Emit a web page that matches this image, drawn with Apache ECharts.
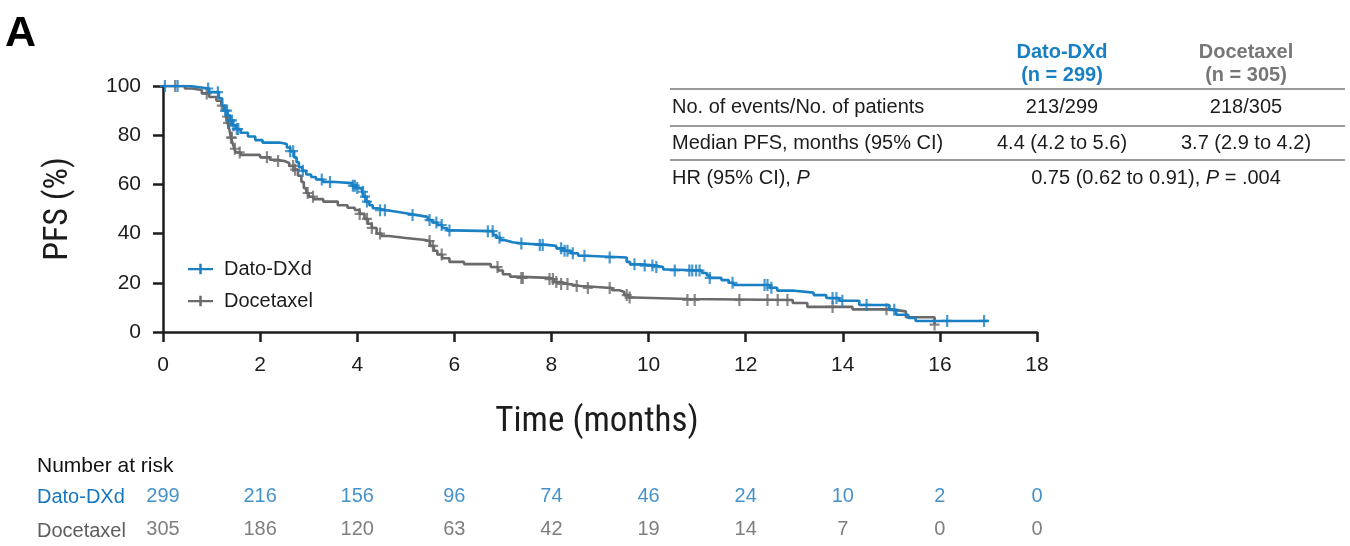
<!DOCTYPE html>
<html>
<head>
<meta charset="utf-8">
<script src="https://cdn.jsdelivr.net/npm/echarts@6/dist/echarts.min.js"></script>
<style>
html,body{margin:0;padding:0;background:#fff;}
#c{width:1350px;height:546px;}
</style>
</head>
<body>
<div id="c"></div>
<script>
// ---- Data ----
const months = [0, 2, 4, 6, 8, 10, 12, 14, 16, 18];
const riskDato = [299, 216, 156, 96, 74, 46, 24, 10, 2, 0];
const riskDoce = [305, 186, 120, 63, 42, 19, 14, 7, 0, 0];

// Kaplan-Meier steps: [time (months), PFS % after that time]
const datoSteps = [
  [0,100],[0.55,99.5],[0.75,99],[0.95,97.5],[1.15,95],[1.22,92],[1.28,90],[1.33,88],[1.38,86],
  [1.44,84],[1.5,82.5],[1.6,81],[1.75,79.5],[1.9,78],[2.05,77],[2.4,76.4],[2.55,75],[2.62,73.5],
  [2.7,71],[2.75,69],[2.8,67],[2.87,65.5],[2.95,64],[3.05,63],[3.15,62],[3.3,61],[3.55,60.5],
  [3.9,59.5],[3.98,58.5],[4.1,57],[4.13,55],[4.18,53],[4.25,51.5],[4.32,50.3],[4.42,49.5],
  [4.6,48.8],[4.85,48.3],[5.0,47.6],[5.2,46.8],[5.45,45.5],[5.55,44.5],[5.65,43.5],[5.75,42.3],
  [5.85,41.3],[5.95,41],[6.8,39.4],[6.87,38.3],[6.95,37.3],[7.05,36.5],[7.2,36],[7.4,35.4],
  [7.9,35],[8.1,34],[8.25,33],[8.4,32],[8.55,31],[8.7,30.3],[9.55,28.5],[9.62,27.5],[9.85,27],
  [10.15,26.4],[10.3,25.4],[10.4,25],[11.1,24],[11.2,23],[11.26,22],[11.5,21.1],[11.65,20],
  [11.75,19.1],[12.5,18],[12.65,16.8],[13.0,16],[13.4,15],[13.66,13.8],[13.93,12.7],[14.34,11],
  [14.96,9],[15.1,7],[15.35,5.7],[15.5,4.5]
];
const datoEnd = 17.0;
const doceSteps = [
  [0,100],[0.45,99],[0.6,98.4],[0.8,97],[0.95,95.5],[1.1,94],[1.2,92],[1.25,90],[1.3,87.5],
  [1.33,85],[1.37,82],[1.4,79],[1.43,77],[1.47,74.5],[1.5,73],[1.6,72],[2.0,71],[2.2,70],
  [2.35,69.5],[2.5,68.7],[2.6,67.5],[2.7,66],[2.78,63.5],[2.85,61],[2.9,58.5],[2.95,56.5],
  [3.0,55],[3.1,54],[3.3,53],[3.6,51.5],[3.8,50.5],[3.95,49.6],[4.05,48],[4.15,46],[4.22,44],
  [4.3,42.3],[4.4,40],[4.5,39],[4.65,38.2],[5.0,37.4],[5.4,37],[5.5,35],[5.58,33],[5.65,31.5],
  [5.75,30],[5.9,28.5],[6.2,27.6],[6.75,26.4],[6.9,25],[7.0,23.5],[7.15,22.5],[7.25,22],
  [7.95,21.5],[8.05,20.3],[8.2,19.5],[8.35,18.7],[8.6,17.9],[9.25,17],[9.4,16.3],[9.5,15],
  [9.6,14],[9.7,13.4],[10.8,13],[12.97,11.8],[13.27,10.2],[14.2,9.2],[14.97,8.4],[15.3,6],
  [15.89,3]
];
const doceEnd = 15.89;

// Censoring times (months)
const datoCensor = [0.04,0.3,0.93,1.13,1.28,1.32,1.38,1.42,1.45,1.52,1.55,2.62,2.68,2.88,3.27,3.44,
  3.91,3.95,4.0,4.12,4.16,4.2,4.47,4.57,5.14,5.49,5.63,5.74,5.9,6.69,6.79,6.93,7.38,7.76,7.82,
  8.2,8.27,8.33,8.44,8.68,9.2,9.71,9.92,10.08,10.16,10.54,10.84,10.9,10.98,11.05,11.26,11.73,
  12.39,12.45,12.53,13.79,13.87,13.99,14.49,15.06,16.15,16.91];
const doceCensor = [0.25,0.9,1.21,1.32,1.34,1.4,1.42,1.48,1.58,2.14,2.37,2.68,2.72,2.98,3.09,
  4.05,4.2,4.3,4.47,5.49,5.56,5.74,6.89,7.41,7.38,7.96,8.03,8.1,8.2,8.33,8.52,8.75,9.2,9.55,
  9.61,10.8,10.95,11.87,12.45,12.66,12.86,13.79,14.9,15.89];

// ---- Colours ----
const BLUE = '#1a80c4';
const GRAY = '#6a6a6d';
const INK = '#1c1c1c';
const FONT = "'Liberation Sans', Arial, sans-serif";
const NARROW = "'Liberation Sans Narrow', 'Roboto Condensed', 'Liberation Sans', sans-serif";

function survAt(steps, t) {
  let s = steps[0][1];
  for (const p of steps) { if (p[0] <= t) s = p[1]; else break; }
  return s;
}
function lineData(steps, end) {
  const d = steps.map(p => [p[0], p[1]]);
  d.push([end, steps[steps.length - 1][1]]);
  return d;
}
const plusIcon = 'path://M0,4 L24,4 L24,6.2 L0,6.2 Z M10.8,0 L13.2,0 L13.2,10 L10.8,10 Z';
const plusMark = 'path://M0,4.1 L10,4.1 L10,5.9 L0,5.9 Z M3.9,0 L6.1,0 L6.1,10 L3.9,10 Z';

const axisStyle = { color: INK, width: 2.5 };

const chart = echarts.init(document.getElementById('c'), null, { renderer: 'canvas' });
const option = {
  backgroundColor: '#fff',
  animation: false,
  grid: [
    { left: 163, right: 313, top: 86, bottom: 214 },
    { left: 163, right: 313, top: 480, height: 68 }
  ],
  xAxis: [
    {
      type: 'value', min: 0, max: 18, interval: 2,
      axisLine: { lineStyle: axisStyle },
      axisTick: { length: 10, lineStyle: axisStyle },
      axisLabel: { fontSize: 21, color: INK, margin: 23, fontFamily: FONT },
      splitLine: { show: false }
    },
    { gridIndex: 1, type: 'value', min: 0, max: 18, show: false }
  ],
  yAxis: [
    {
      type: 'value', min: 0, max: 100, interval: 20,
      axisLine: { show: true, lineStyle: axisStyle },
      axisTick: { show: true, length: 10, lineStyle: axisStyle },
      axisLabel: { fontSize: 21, color: INK, margin: 22, fontFamily: FONT },
      splitLine: { show: false }
    },
    { gridIndex: 1, type: 'category', inverse: true, data: ['Dato-DXd', 'Docetaxel'], show: false }
  ],
  legend: {
    orient: 'vertical', left: 183, top: 254, itemGap: 12,
    itemWidth: 25, itemHeight: 11,
    textStyle: { fontSize: 20, color: INK, fontFamily: FONT, padding: [0, 0, 0, 6] },
    data: [
      { name: 'Dato-DXd', icon: plusIcon, itemStyle: { color: BLUE } },
      { name: 'Docetaxel', icon: plusIcon, itemStyle: { color: GRAY } }
    ]
  },
  series: [
    {
      name: 'Docetaxel', type: 'line', step: 'end', showSymbol: false,
      data: lineData(doceSteps, doceEnd), color: GRAY,
      lineStyle: { width: 2.6, color: GRAY }, z: 2
    },
    {
      name: 'Dato-DXd', type: 'line', step: 'end', showSymbol: false,
      data: lineData(datoSteps, datoEnd), color: BLUE,
      lineStyle: { width: 2.6, color: BLUE }, z: 3
    },
    {
      name: 'Docetaxel censored', type: 'scatter', symbol: plusMark, symbolSize: [10, 12],
      itemStyle: { color: GRAY }, z: 2,
      data: doceCensor.map(t => [t, survAt(doceSteps, t)])
    },
    {
      name: 'Dato-DXd censored', type: 'scatter', symbol: plusMark, symbolSize: [10, 12],
      itemStyle: { color: BLUE }, z: 3,
      data: datoCensor.map(t => [t, survAt(datoSteps, t)])
    },
    {
      name: 'risk Dato', type: 'scatter', xAxisIndex: 1, yAxisIndex: 1, symbolSize: 0,
      label: { show: true, position: 'inside', formatter: p => p.value[2], fontSize: 20, color: '#1677bd', fontFamily: FONT },
      data: months.map((m, i) => [m, 'Dato-DXd', riskDato[i]])
    },
    {
      name: 'risk Doce', type: 'scatter', xAxisIndex: 1, yAxisIndex: 1, symbolSize: 0,
      label: { show: true, position: 'inside', formatter: p => p.value[2], fontSize: 20, color: '#5e5e5e', fontFamily: FONT },
      data: months.map((m, i) => [m, 'Docetaxel', riskDoce[i]])
    }
  ],
  graphic: [
    { type: 'text', left: 5, top: 13, style: { text: 'A', font: "900 43px " + FONT, fill: '#000' } },
    { type: 'text', x: 58, y: 209, rotation: Math.PI / 2,
      style: { text: 'PFS (%)', font: "34px " + NARROW, fill: INK, align: 'center', verticalAlign: 'middle' } },
    { type: 'text', x: 597, y: 422,
      style: { text: 'Time (months)', font: "35px " + NARROW, fill: INK, align: 'center', verticalAlign: 'middle' } },
    // top-right summary table
    { type: 'text', x: 1062, y: 52, style: { text: 'Dato-DXd', font: "bold 20px " + FONT, fill: BLUE, align: 'center', verticalAlign: 'middle' } },
    { type: 'text', x: 1062, y: 75, style: { text: '(n = 299)', font: "bold 20px " + FONT, fill: BLUE, align: 'center', verticalAlign: 'middle' } },
    { type: 'text', x: 1246, y: 52, style: { text: 'Docetaxel', font: "bold 20px " + FONT, fill: '#777', align: 'center', verticalAlign: 'middle' } },
    { type: 'text', x: 1246, y: 75, style: { text: '(n = 305)', font: "bold 20px " + FONT, fill: '#777', align: 'center', verticalAlign: 'middle' } },
    { type: 'line', shape: { x1: 670, y1: 89, x2: 1345, y2: 89 }, style: { stroke: '#9a9a9a', lineWidth: 2 } },
    { type: 'text', x: 672, y: 107, style: { text: 'No. of events/No. of patients', font: "20px " + FONT, fill: INK, align: 'left', verticalAlign: 'middle' } },
    { type: 'text', x: 1062, y: 107, style: { text: '213/299', font: "20px " + FONT, fill: INK, align: 'center', verticalAlign: 'middle' } },
    { type: 'text', x: 1246, y: 107, style: { text: '218/305', font: "20px " + FONT, fill: INK, align: 'center', verticalAlign: 'middle' } },
    { type: 'line', shape: { x1: 670, y1: 126, x2: 1345, y2: 126 }, style: { stroke: '#9a9a9a', lineWidth: 2 } },
    { type: 'text', x: 672, y: 143, style: { text: 'Median PFS, months (95% CI)', font: "20px " + FONT, fill: INK, align: 'left', verticalAlign: 'middle' } },
    { type: 'text', x: 1062, y: 143, style: { text: '4.4 (4.2 to 5.6)', font: "20px " + FONT, fill: INK, align: 'center', verticalAlign: 'middle' } },
    { type: 'text', x: 1246, y: 143, style: { text: '3.7 (2.9 to 4.2)', font: "20px " + FONT, fill: INK, align: 'center', verticalAlign: 'middle' } },
    { type: 'line', shape: { x1: 670, y1: 160, x2: 1345, y2: 160 }, style: { stroke: '#9a9a9a', lineWidth: 2 } },
    { type: 'text', x: 672, y: 178, style: {
        text: 'HR (95% CI), {i|P}', font: "20px " + FONT, fill: INK, align: 'left', verticalAlign: 'middle',
        rich: { i: { fontStyle: 'italic', fontSize: 20, fontFamily: FONT, fill: INK } } } },
    { type: 'text', x: 1156, y: 178, style: {
        text: '0.75 (0.62 to 0.91), {i|P} = .004', font: "20px " + FONT, fill: INK, align: 'center', verticalAlign: 'middle',
        rich: { i: { fontStyle: 'italic', fontSize: 20, fontFamily: FONT, fill: INK } } } },
    // number at risk labels
    { type: 'text', x: 37, y: 466, style: { text: 'Number at risk', font: "21px " + FONT, fill: '#111', align: 'left', verticalAlign: 'middle' } },
    { type: 'text', x: 37, y: 497, style: { text: 'Dato-DXd', font: "20px " + FONT, fill: '#1677bd', align: 'left', verticalAlign: 'middle' } },
    { type: 'text', x: 37, y: 531, style: { text: 'Docetaxel', font: "20px " + FONT, fill: '#5e5e5e', align: 'left', verticalAlign: 'middle' } }
  ]
};
chart.setOption(option);
</script>
</body>
</html>
